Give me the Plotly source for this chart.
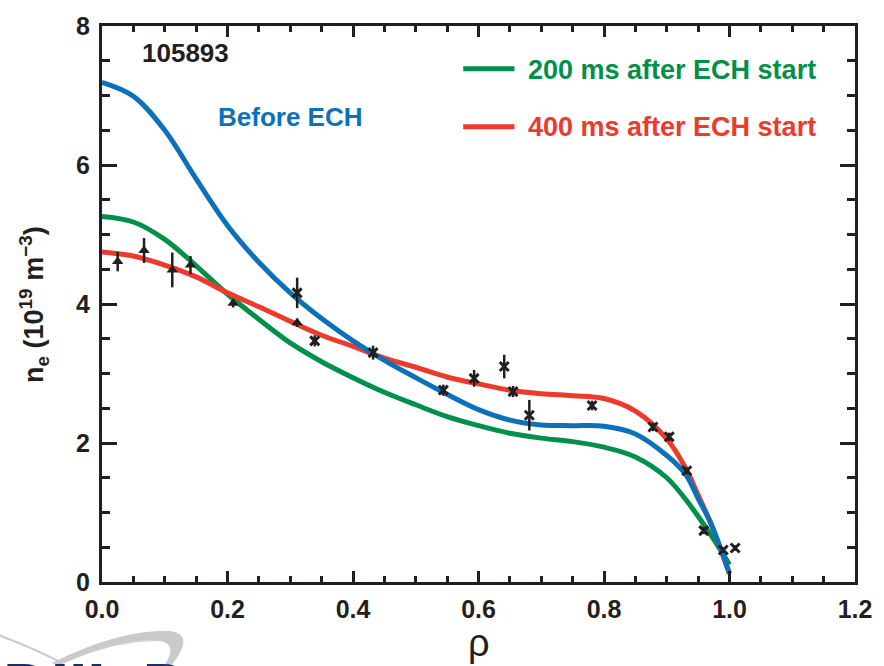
import plotly.graph_objects as go

# Electron density profiles, shot 105893
rho_before = [0.0, 0.05, 0.10, 0.15, 0.20, 0.25, 0.30, 0.35, 0.40, 0.45, 0.50, 0.55, 0.60,
              0.65, 0.70, 0.75, 0.80, 0.85, 0.90, 0.93, 0.95, 0.97, 1.0]
ne_before = [7.19, 6.99, 6.50, 5.80, 5.13, 4.60, 4.16, 3.79, 3.47, 3.19, 2.94, 2.70, 2.48,
             2.33, 2.26, 2.25, 2.24, 2.13, 1.82, 1.55, 1.20, 0.85, 0.12]

rho_200 = [0.0, 0.05, 0.10, 0.15, 0.20, 0.25, 0.30, 0.35, 0.40, 0.45, 0.50, 0.55, 0.60,
           0.65, 0.70, 0.75, 0.80, 0.85, 0.90, 0.94, 0.97, 1.0]
ne_200 = [5.26, 5.18, 4.93, 4.55, 4.14, 3.78, 3.44, 3.17, 2.94, 2.73, 2.55, 2.38, 2.25,
          2.14, 2.07, 2.02, 1.94, 1.80, 1.50, 1.07, 0.68, 0.25]

rho_400 = [0.0, 0.05, 0.10, 0.15, 0.20, 0.25, 0.30, 0.35, 0.40, 0.45, 0.50, 0.55, 0.60,
           0.65, 0.70, 0.75, 0.80, 0.85, 0.90, 0.93, 0.95, 0.97, 1.0]
ne_400 = [4.75, 4.69, 4.56, 4.39, 4.16, 3.96, 3.75, 3.55, 3.39, 3.22, 3.09, 2.95, 2.85,
          2.76, 2.71, 2.68, 2.64, 2.46, 2.06, 1.64, 1.25, 0.85, 0.12]

# Measured points (two sets of Thomson chords)
tri_rho = [0.025, 0.067, 0.112, 0.141, 0.209, 0.311]
tri_ne = [4.61, 4.77, 4.49, 4.56, 4.01, 3.73]
tri_err = [0.14, 0.18, 0.25, 0.13, 0.06, 0.06]

ast_rho = [0.311, 0.339, 0.432, 0.544, 0.593, 0.641, 0.655, 0.681, 0.781, 0.878, 0.904,
           0.932, 0.959, 0.990, 1.009]
ast_ne = [4.16, 3.47, 3.30, 2.76, 2.93, 3.10, 2.74, 2.40, 2.54, 2.23, 2.09, 1.60, 0.74,
          0.46, 0.49]
ast_err = [0.22, 0.08, 0.10, 0.08, 0.12, 0.17, 0.08, 0.22, 0.07, 0.06, 0.06, 0.05, 0.05,
           0.04, 0.04]

x_ticks = [0.0, 0.2, 0.4, 0.6, 0.8, 1.0, 1.2]
y_ticks = [0, 2, 4, 6, 8]

BLUE = "#0A71BA"
GREEN = "#00904A"
RED = "#EC3B2C"
INK = "#231F20"
SANS = "Liberation Sans, Arial, sans-serif"

fig = go.Figure()

for rho, ne, col in [(rho_200, ne_200, GREEN), (rho_400, ne_400, RED), (rho_before, ne_before, BLUE)]:
    fig.add_trace(go.Scatter(x=rho, y=ne, mode="lines",
                             line=dict(color=col, width=5, shape="spline", smoothing=1.0),
                             showlegend=False, hoverinfo="skip"))

fig.add_trace(go.Scatter(x=tri_rho, y=tri_ne, mode="markers",
                         marker=dict(symbol="triangle-up", size=10, color=INK),
                         error_y=dict(type="data", array=tri_err, width=0, thickness=2.5, color=INK),
                         showlegend=False))
fig.add_trace(go.Scatter(x=ast_rho, y=ast_ne, mode="markers",
                         marker=dict(symbol="x-thin-open", size=9, color=INK,
                                     line=dict(width=3, color=INK)),
                         error_y=dict(type="data", array=ast_err, width=0, thickness=2.5, color=INK),
                         showlegend=False))

axis_common = dict(showline=True, linewidth=3, linecolor=INK, mirror="ticks",
                   ticks="inside", tickcolor=INK, tickwidth=2.5, showgrid=False, zeroline=False,
                   tickfont=dict(family=SANS, size=25, color=INK, weight="bold"))

fig.update_xaxes(range=[0, 1.2], tickvals=x_ticks, ticktext=[f"{v:.1f}" for v in x_ticks],
                 ticklen=11, ticklabelstandoff=3,
                 minor=dict(dtick=0.05, ticks="inside", ticklen=6, tickwidth=2.5, tickcolor=INK),
                 **axis_common)
fig.update_yaxes(range=[0, 8], tickvals=y_ticks, ticklen=15, ticklabelstandoff=4,
                 minor=dict(dtick=0.5, ticks="inside", ticklen=8, tickwidth=2.5, tickcolor=INK),
                 **axis_common)

annotations = [
    dict(x=0.06, y=7.61, xref="x", yref="y", text="<b>105893</b>", showarrow=False,
         xanchor="left", yanchor="middle", font=dict(family=SANS, size=26, color=INK)),
    dict(x=0.182, y=6.69, xref="x", yref="y", text="<b>Before ECH</b>", showarrow=False,
         xanchor="left", yanchor="middle", font=dict(family=SANS, size=26, color=BLUE)),
    dict(x=0.5636, y=0.921, xref="paper", yref="paper", text="<b>200 ms after ECH start</b>",
         showarrow=False, xanchor="left", yanchor="middle",
         font=dict(family=SANS, size=27, color=GREEN)),
    dict(x=0.5636, y=0.818, xref="paper", yref="paper", text="<b>400 ms after ECH start</b>",
         showarrow=False, xanchor="left", yanchor="middle",
         font=dict(family=SANS, size=27, color=RED)),
    dict(x=-0.0904, y=0.5, xref="paper", yref="paper", textangle=-90,
         text="<b>n<sub>e</sub> (10<sup>19</sup> m<sup>\u22123</sup>)</b>", showarrow=False,
         xanchor="center", yanchor="middle", font=dict(family=SANS, size=27, color=INK)),
    dict(x=0.5, y=-0.068, xref="paper", yref="paper", text="\u03c1", showarrow=False,
         xanchor="center", yanchor="top", font=dict(family=SANS, size=38, color=INK)),
    # logo lettering, mostly below the page edge
    dict(x=-0.134, y=-0.259, xref="paper", yref="paper", text="<b>DIII\u2013D</b>", showarrow=False,
         xanchor="left", yanchor="bottom", font=dict(family=SANS, size=66, color="#1B2F6B")),
]

shapes = [
    dict(type="line", xref="paper", yref="paper", x0=0.4797, x1=0.5478, y0=0.923, y1=0.923,
         line=dict(color=GREEN, width=5)),
    dict(type="line", xref="paper", yref="paper", x0=0.4797, x1=0.5478, y0=0.819, y1=0.819,
         line=dict(color=RED, width=5)),
]


def px(xp, yp):
    return f"{(xp - 102) / 763:.4f},{(582 - yp) / 562:.4f}"


# grey orbit swoosh of the logo
shapes.append(dict(type="path", xref="paper", yref="paper", line=dict(color="#C9CACC", width=2),
                   path=f"M{px(-2, 636)} Q{px(30, 648)} {px(58, 662)}"))
shapes.append(dict(type="path", xref="paper", yref="paper", fillcolor="#C9CACC",
                   line=dict(color="#C9CACC", width=1),
                   path=(f"M{px(52, 664)} Q{px(120, 630)} {px(172, 632)} "
                         f"Q{px(196, 636)} {px(172, 666)} L{px(166, 666)} "
                         f"Q{px(180, 644)} {px(160, 641)} Q{px(115, 640)} {px(60, 665)} Z")))

fig.update_layout(width=884, height=666, margin=dict(l=102, r=19, t=20, b=84),
                  plot_bgcolor="white", paper_bgcolor="white",
                  annotations=annotations, shapes=shapes)

fig.write_html("out.html")
